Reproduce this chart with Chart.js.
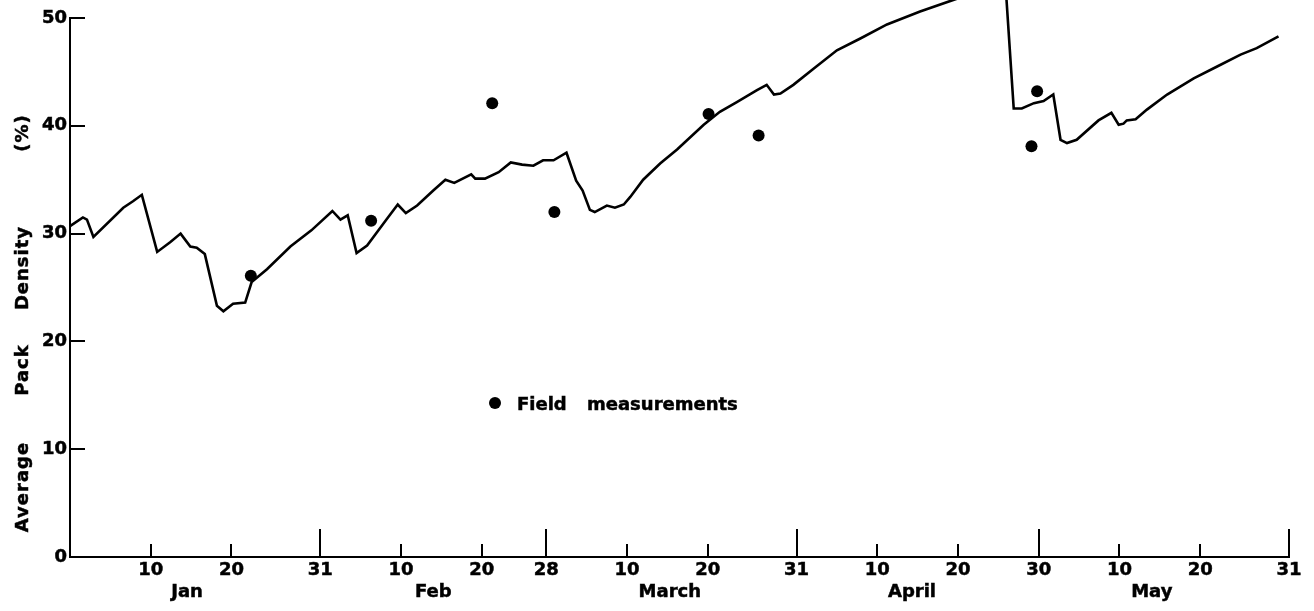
<!DOCTYPE html>
<html><head><meta charset="utf-8">
<script src="https://cdn.jsdelivr.net/npm/chart.js@4.4.0/dist/chart.umd.min.js"></script>
<style>html,body{margin:0;padding:0;background:#fff;}canvas{display:block}</style>
</head><body>
<canvas id="c" width="1314" height="611"></canvas>
<script>
// Days counted from Dec 31 (Jan 1 = day 1)
const lineDays = [0,1.6,2.1,2.9,6.6,7.8,8.9,10.8,12.4,13.7,14.9,15.7,16.7,18.2,19.0,20.2,21.7,22.5,24.4,27.3,29.9,32.5,33.5,34.4,35.5,36.8,39.2,40.6,41.6,43.0,45.0,46.5,47.6,49.7,50.2,51.4,53.1,54.6,56.0,57.4,58.6,59.9,61.5,62.7,63.5,64.4,65.0,66.5,67.5,68.6,69.4,71.0,73.1,75.2,78.5,80.5,82.6,85.1,86.3,87.2,88.0,89.6,92.1,95.0,97.9,101.2,105.3,109.5,112.5,115.9,116.9,117.9,119.4,120.6,121.8,122.7,123.5,124.7,127.4,129.0,129.9,130.5,130.9,132.0,133.4,135.9,139.2,142.1,145.0,147.0,149.7];
const lineValues = [30.7,31.5,31.3,29.7,32.4,33.0,33.6,28.3,29.2,30.0,28.8,28.7,28.1,23.3,22.8,23.5,23.6,25.5,26.7,28.8,30.3,32.1,31.3,31.7,28.2,28.9,31.3,32.7,31.9,32.6,34.0,35.0,34.7,35.5,35.1,35.1,35.7,36.6,36.4,36.3,36.8,36.8,37.5,34.9,34.0,32.2,32.0,32.6,32.4,32.7,33.4,35.0,36.5,37.8,40.1,41.3,42.2,43.3,43.8,42.9,43.0,43.8,45.3,47.0,48.1,49.4,50.6,51.7,52.4,52.9,41.6,41.6,42.1,42.3,42.9,38.7,38.4,38.7,40.5,41.2,40.1,40.2,40.5,40.6,41.5,42.9,44.4,45.5,46.6,47.2,48.3];
const fieldDays = [22.4,37.3,52.3,60.0,79.1,85.3,119.1,119.8];
const fieldValues = [26.1,31.2,42.1,32.0,41.1,39.1,38.1,43.2];
const xTickDays = [10,20,31,41,51,59,69,79,90,100,110,120,130,140,151];
const xTickLabels = ['10','20','31','10','20','28','10','20','31','10','20','30','10','20','31'];
const monthEndDays = [31,59,90,120,151];
const monthNames = ['Jan','Feb','March','April','May'];
const monthLabelDays = [14.5,45,74.3,104.3,134];
const yTicks = [0,10,20,30,40,50];
const yTitleWords = ['Average','Pack','Density','(%)'];
const legendLabel = 'Field measurements';

const FAMILY = '"DejaVu Sans", sans-serif';
const FONT = 'bold 18px ' + FAMILY;
const tickFont = {family: FAMILY, size: 18, weight: 'bold'};

const decor = {
  id: 'decor',
  beforeDraw(chart) {
    const ctx = chart.ctx;
    ctx.save(); ctx.fillStyle = '#fff'; ctx.fillRect(0, 0, chart.width, chart.height); ctx.restore();
  },
  afterDraw(chart) {
    const {ctx, chartArea: a, scales: {x, y}} = chart;
    ctx.save();
    ctx.strokeStyle = '#000'; ctx.lineWidth = 2; ctx.lineCap = 'butt';
    xTickDays.forEach(d => {
      const px = Math.round(x.getPixelForValue(d));
      const len = monthEndDays.includes(d) ? 28 : 13;
      ctx.beginPath(); ctx.moveTo(px, a.bottom); ctx.lineTo(px, a.bottom - len); ctx.stroke();
    });
    yTicks.forEach(v => {
      const py = Math.round(y.getPixelForValue(v));
      ctx.beginPath(); ctx.moveTo(a.left, py); ctx.lineTo(a.left + 15, py); ctx.stroke();
    });
    // y title words, spread along the axis
    ctx.fillStyle = '#000'; ctx.font = FONT; ctx.lineWidth = 0.5;
    try { ctx.letterSpacing = '1px'; } catch (e) {}
    ctx.textAlign = 'center'; ctx.textBaseline = 'alphabetic';
    const centers = [487, 370, 268, 133];
    yTitleWords.forEach((w, i) => {
      ctx.save(); ctx.translate(28, centers[i]); ctx.rotate(-Math.PI / 2);
      ctx.fillText(w, 0, 0); ctx.strokeText(w, 0, 0); ctx.restore();
    });
    // legend
    try { ctx.letterSpacing = '0px'; } catch (e) {}
    ctx.beginPath(); ctx.arc(495, 403, 6, 0, Math.PI * 2); ctx.fill();
    ctx.textAlign = 'left';
    const parts = legendLabel.split(' ');
    const rest = parts.slice(1).join(' ');
    ctx.fillText(parts[0], 517, 410); ctx.strokeText(parts[0], 517, 410);
    ctx.fillText(rest, 587, 410); ctx.strokeText(rest, 587, 410);
    ctx.restore();
  }
};

const tickStyle = {color: '#000', font: tickFont, textStrokeColor: '#000', textStrokeWidth: 0.5};

new Chart(document.getElementById('c'), {
  type: 'line',
  data: {
    datasets: [
      {
        label: 'Average pack density',
        data: lineDays.map((d, i) => ({x: d, y: lineValues[i]})),
        borderColor: '#000', borderWidth: 2.6, pointRadius: 0, tension: 0, fill: false, clip: false
      },
      {
        type: 'scatter',
        label: legendLabel,
        data: fieldDays.map((d, i) => ({x: d, y: fieldValues[i]})),
        backgroundColor: '#000', borderColor: '#000', borderWidth: 0, pointRadius: 6, showLine: false
      }
    ]
  },
  options: {
    responsive: false, animation: false,
    layout: {padding: {top: 18, right: 25, left: 0, bottom: 0}},
    plugins: {legend: {display: false}, tooltip: {enabled: false}},
    scales: {
      x: {
        type: 'linear', position: 'bottom', min: 0, max: 151, weight: 0,
        grid: {display: false, drawTicks: false},
        border: {display: true, color: '#000', width: 2},
        afterBuildTicks: s => { s.ticks = xTickDays.map(v => ({value: v})); },
        afterFit: s => { s.height = 25; },
        ticks: Object.assign({autoSkip: false, maxRotation: 0, padding: 3,
          callback: (v, i) => xTickLabels[i]}, tickStyle)
      },
      x2: {
        type: 'linear', position: 'bottom', min: 0, max: 151, weight: 1,
        grid: {display: false, drawTicks: false},
        border: {display: false},
        afterBuildTicks: s => { s.ticks = monthLabelDays.map(v => ({value: v})); },
        afterFit: s => { s.height = 29; },
        ticks: Object.assign({autoSkip: false, maxRotation: 0, padding: 0,
          callback: (v, i) => monthNames[i]}, tickStyle)
      },
      y: {
        type: 'linear', min: 0, max: 50,
        grid: {display: false, drawTicks: false},
        border: {display: true, color: '#000', width: 2},
        afterBuildTicks: s => { s.ticks = yTicks.map(v => ({value: v})); },
        afterFit: s => { s.width = 70; },
        ticks: Object.assign({padding: 3}, tickStyle)
      }
    }
  },
  plugins: [decor]
});
</script>
</body></html>
